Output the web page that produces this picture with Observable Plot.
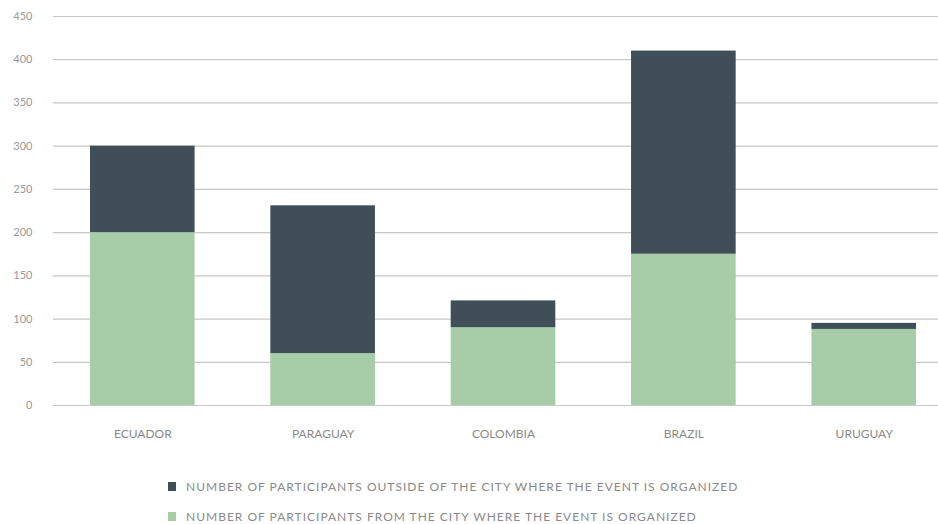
<!DOCTYPE html>
<html>
<head>
<meta charset="utf-8">
<script src="https://cdn.jsdelivr.net/npm/d3@7"></script>
<script src="https://cdn.jsdelivr.net/npm/@observablehq/plot@0.6"></script>
<style>
  html, body { margin: 0; padding: 0; background: #fff; }
  #chart { width: 938px; }
  .legend { font-family: Lato, "DejaVu Sans", sans-serif; font-size: 12px; color: #8a8a8a; letter-spacing: 1px; }
  .legend .item { position: absolute; left: 168px; display: flex; align-items: center; }
  .legend .sw { width: 8px; height: 9px; margin-right: 10px; display: inline-block; }
</style>
</head>
<body>
<div id="chart"></div>
<div class="legend" id="legend"></div>
<script>
const countries = ["ECUADOR", "PARAGUAY", "COLOMBIA", "BRAZIL", "URUGUAY"];
const fromCity = [200, 60, 90, 175, 88];
const outsideCity = [100, 171, 31, 235, 7];
const seriesNames = [
  "NUMBER OF PARTICIPANTS FROM THE CITY WHERE THE EVENT IS ORGANIZED",
  "NUMBER OF PARTICIPANTS OUTSIDE OF THE CITY WHERE THE EVENT IS ORGANIZED"
];
const seriesColors = ["#a6cda8", "#3f4e57"];
const yTicks = [0, 50, 100, 150, 200, 250, 300, 350, 400, 450];

const rows = [];
countries.forEach((c, i) => rows.push({country: c, series: seriesNames[0], value: fromCity[i]}));
countries.forEach((c, i) => rows.push({country: c, series: seriesNames[1], value: outsideCity[i]}));

const font = 'Lato, "DejaVu Sans", sans-serif';
const plot = Plot.plot({
  width: 938,
  height: 450,
  marginLeft: 53,
  marginRight: 0,
  marginTop: 16,
  marginBottom: 45,
  style: {fontFamily: font, background: "#fff"},
  x: {domain: countries, range: [53, 953], paddingInner: 0.42, paddingOuter: 0.205, round: false, label: null},
  y: {domain: [0, 450], label: null},
  color: {domain: seriesNames, range: seriesColors},
  marks: [
    Plot.ruleY(yTicks, {stroke: "#c8c8c8", strokeWidth: 1.2}),
    Plot.barY(rows, {x: "country", y: "value", fill: "series", order: seriesNames}),
    Plot.axisY(yTicks, {tickSize: 0, tickPadding: 21, fill: "#999", fontSize: 11, letterSpacing: 0.8, label: null}),
    Plot.axisX({tickSize: 0, tickPadding: 24, fill: "#8a8a8a", fontSize: 12, letterSpacing: 1.8, label: null})
  ]
});
document.getElementById("chart").appendChild(plot);

const legend = document.getElementById("legend");
const legendOrder = [1, 0];
const legendTops = [479, 509];
legendOrder.forEach((k, j) => {
  const d = document.createElement("div");
  d.className = "item";
  d.style.top = legendTops[j] + "px";
  const sw = document.createElement("span");
  sw.className = "sw";
  sw.style.background = seriesColors[k];
  const t = document.createElement("span");
  t.textContent = seriesNames[k];
  d.appendChild(sw);
  d.appendChild(t);
  legend.appendChild(d);
});
</script>
</body>
</html>
